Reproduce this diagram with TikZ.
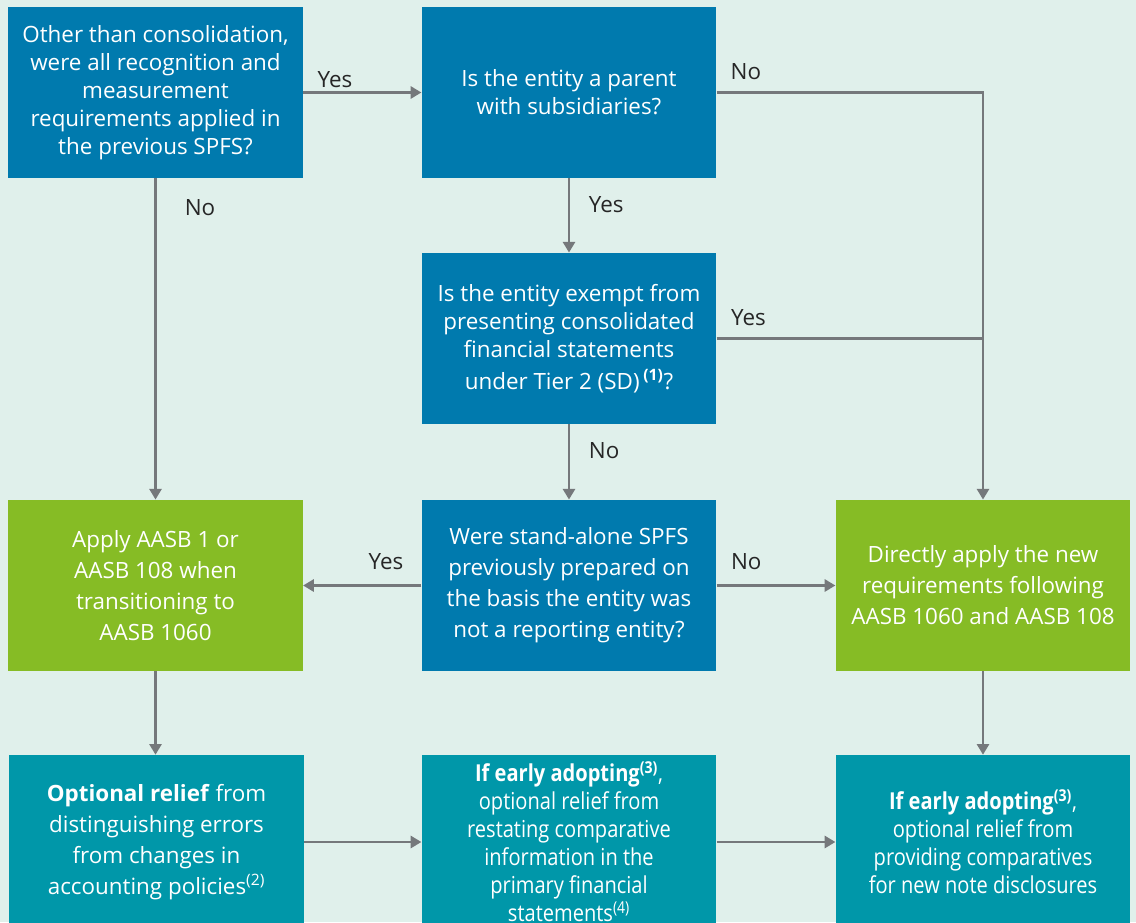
\documentclass[tikz,border=0pt]{standalone}
\usepackage{fontspec}
\setmainfont{Open Sans}
\newfontfamily\condfont[FakeStretch=0.86]{Open Sans}
\usetikzlibrary{arrows.meta}
\definecolor{bgmint}{RGB}{224,240,235}
\definecolor{qblue}{RGB}{0,122,174}
\definecolor{agreen}{RGB}{134,188,37}
\definecolor{rteal}{RGB}{0,151,169}
\definecolor{lgray}{RGB}{117,120,123}
\tikzset{
  box/.style={minimum width=221pt, minimum height=128.5pt, inner sep=0pt, align=center,
    text=white, font=\fontsize{16.8}{21}\selectfont},
  question/.style={box, fill=qblue},
  outcome/.style={box, fill=agreen, font=\fontsize{16.8}{23.2}\selectfont},
  relief/.style={box, fill=rteal, minimum height=130.5pt},
  flow/.style={draw=lgray, line width=1.9pt, -{Triangle[length=8pt,width=9pt]}},
  plain/.style={draw=lgray, line width=1.9pt},
  lbl/.style={text=black!85, font=\fontsize{16.8}{21}\selectfont, inner sep=2pt}
}
\begin{document}
\begin{tikzpicture}[x=0.75pt, y=-0.75pt]
		%%%%% START %%%%%
		\clip (0, 0) rectangle (1136, 922);
		\fill[bgmint] (0, 0) rectangle (1136, 922);
		
		\node[question] (prev) at (155.5, 92.5) {Other than consolidation,\\were all recognition and\\measurement\\requirements applied in\\the previous SPFS?};
		\node[question] (parent) at (569, 92.5) {Is the entity a parent\\with subsidiaries?};
		\node[question] (exempt) at (569, 338.5) {Is the entity exempt from\\presenting consolidated\\financial statements\\[3pt]under Tier 2 (SD)\,\textsuperscript{\textbf{(1)}}?};
		
		\node[outcome] (aasb1) at (155.5, 585.5) {Apply AASB 1 or\\AASB 108 when\\transitioning to\\AASB 1060};
		\node[question, font=\fontsize{16.8}{23.2}\selectfont] (standalone) at (569, 585.5) {Were stand-alone SPFS\\previously prepared on\\the basis the entity was\\not a reporting entity?};
		\node[outcome] (direct) at (983, 585.5) {Directly apply the new\\requirements following\\AASB 1060 and AASB 108};
		
		\node[relief, font=\fontsize{16.8}{23.2}\selectfont] (errors) at (156.5, 842) {\textbf{Optional relief} from\\distinguishing errors\\from changes in\\accounting policies\textsuperscript{(2)}};
		\node[relief, font=\condfont\fontsize{17.5}{21}\selectfont] (restate) at (569, 842) {\textbf{If early adopting\textsuperscript{(3)}},\\optional relief from\\restating comparative\\information in the\\primary financial\\statements\textsuperscript{(4)}};
		\node[relief, font=\condfont\fontsize{17.5}{21}\selectfont] (notes) at (983, 842) {\textbf{If early adopting\textsuperscript{(3)}},\\optional relief from\\providing comparatives\\for new note disclosures};
		
		% top row
		\draw[flow] (prev.east) -- node[lbl, above, pos=0.27, yshift=1pt] {Yes} (parent.west);
		\draw[flow] (parent.east) -- node[lbl, above, pos=0.11, yshift=7pt] {No} (parent.east -| direct.north) -- (direct.north);
		\draw[plain] (exempt.east) -- node[lbl, above, pos=0.12, yshift=7pt] {Yes} (exempt.east -| direct.north);
		
		% down the middle
		\draw[flow] (parent.south) -- node[lbl, right, pos=0.35, xshift=12pt] {Yes} (exempt.north);
		\draw[flow] (exempt.south) -- node[lbl, right, pos=0.35, xshift=12pt] {No} (standalone.north);
		\draw[flow] (prev.south) -- node[lbl, right, pos=0.09, xshift=19pt] {No} (aasb1.north);
		
		% middle row
		\draw[flow] (standalone.west) -- node[lbl, above, pos=0.3, yshift=9pt] {Yes} (aasb1.east);
		\draw[flow] (standalone.east) -- node[lbl, above, pos=0.25, yshift=9pt] {No} (direct.west);
		
		% bottom row
		\draw[flow] (aasb1.south) -- (aasb1.south |- errors.north);
		\draw[flow] (direct.south) -- (notes.north);
		\draw[flow] (errors.east) -- (restate.west);
		\draw[flow] (restate.east) -- (notes.west);
		%%%%% END %%%%%
\end{tikzpicture}
\end{document}
